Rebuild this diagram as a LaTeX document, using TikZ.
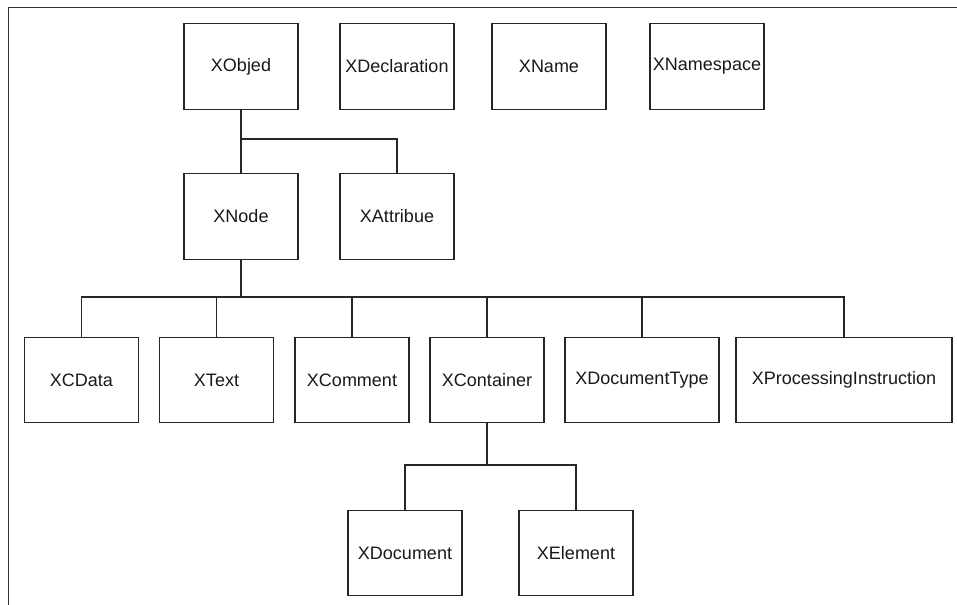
\documentclass[tikz,border=0pt]{standalone}
\usepackage{fontspec}
\setmainfont{Liberation Sans}
\begin{document}
\begin{tikzpicture}[x=0.75pt,y=-0.75pt,
  cls/.style={draw=black!85,line width=0.85pt,rectangle,inner sep=0pt,
    minimum width=85.5pt,minimum height=64pt,font=\fontsize{13.5}{16}\selectfont,text=black!90},
  link/.style={draw=black!85,line width=0.8pt}]
\useasboundingbox (0,0) rectangle (957,605);
\draw[line width=0.9pt,black!80] (8.5,605) -- (8.5,7.5) -- (957,7.5);
% top row
\node[cls] (obj) at (241,66.5) {XObjed};
\node[cls] (decl) at (397,66.5) {XDeclaration};
\node[cls] (name) at (549,66.5) {XName};
\node[cls] (ns) at (707,66.5) {XNamespace};
% second row
\node[cls] (node) at (241,216.5) {XNode};
\node[cls] (attr) at (397,216.5) {XAttribue};
% third row
\node[cls] (cdata) at (81.5,380) {XCData};
\node[cls] (text) at (216.5,380) {XText};
\node[cls] (comm) at (352,380) {XComment};
\node[cls] (cont) at (487,380) {XContainer};
\node[cls,minimum width=115.5pt] (dtype) at (642,380) {XDocumentType};
\node[cls,minimum width=162pt] (pi) at (844,380) {XProcessingInstruction};
% fourth row
\node[cls] (doc) at (405,553) {XDocument};
\node[cls] (elem) at (576,553) {XElement};
% connectors
\coordinate (b1) at (0,139);
\coordinate (b2) at (0,297);
\coordinate (b3) at (0,465);
\draw[link] (obj.south) -- (node.north);
\draw[link] (obj.south |- b1) -| (attr.north);
\draw[link] (node.south) -- (node.south |- b2);
\draw[link] (cdata.north) |- (pi.north |- b2) -- (pi.north);
\draw[link] (text.north) -- (text.north |- b2);
\draw[link] (comm.north) -- (comm.north |- b2);
\draw[link] (cont.north) -- (cont.north |- b2);
\draw[link] (dtype.north) -- (dtype.north |- b2);
\draw[link] (cont.south) -- (cont.south |- b3);
\draw[link] (doc.north) |- (elem.north |- b3) -- (elem.north);
\end{tikzpicture}
\end{document}
